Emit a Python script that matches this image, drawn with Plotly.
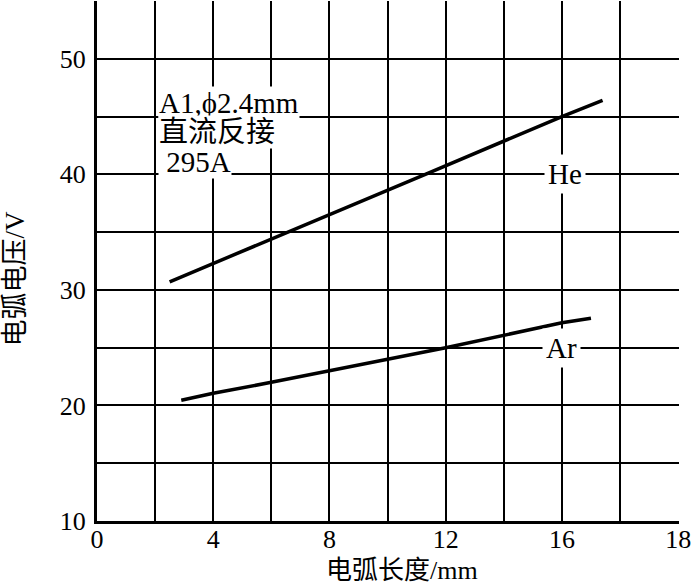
import plotly.graph_objects as go

# Data
he_x = [2.5, 6.6, 11.3, 16.0, 17.4]
he_y = [30.7, 35.0, 40.0, 45.0, 46.4]
ar_x = [2.9, 4.0, 6.0, 12.0, 16.0, 17.0]
ar_y = [20.45, 21.05, 22.0, 25.0, 27.15, 27.55]

x_tickvals = [0, 4, 8, 12, 16, 20]
x_ticktext = ["0", "4", "8", "12", "16", "18"]
y_tickvals = [10, 20, 30, 40, 50]
y_ticktext = ["10", "20", "30", "40", "50"]

series_labels = [("He", 16.1, 40.0), ("Ar", 16.0, 25.0)]
note_lines = ["A1,\u03d52.4mm", "直流反接", " 295A"]
note_y = [46.2, 43.7, 41.1]
x_title = "电弧长度/mm"
y_title = "电弧电压/V"

FONT = "Liberation Serif, Noto Sans CJK SC, serif"

fig = go.Figure()
fig.add_trace(go.Scatter(x=he_x, y=he_y, mode="lines",
                         line=dict(color="black", width=3.5), showlegend=False))
fig.add_trace(go.Scatter(x=ar_x, y=ar_y, mode="lines",
                         line=dict(color="black", width=3.5), showlegend=False))

annotations = []
for txt, xx, yy in series_labels:
    annotations.append(dict(x=xx, y=yy, xref="x", yref="y", text=txt, showarrow=False,
                            font=dict(family=FONT, size=29, color="black"),
                            bgcolor="white", borderpad=3, xanchor="center", yanchor="middle"))
for txt, yy in zip(note_lines, note_y):
    annotations.append(dict(x=2.1, y=yy, xref="x", yref="y", text=txt, showarrow=False,
                            font=dict(family=FONT, size=29, color="black"),
                            bgcolor="white", borderpad=0, xanchor="left", yanchor="middle"))
annotations.append(dict(x=0.524, y=0, xref="paper", yref="paper", text=x_title,
                        showarrow=False, yshift=-49, xanchor="center", yanchor="middle",
                        font=dict(family=FONT, size=26, color="black")))
annotations.append(dict(x=-0.141, y=0.466, xref="paper", yref="paper", text=y_title,
                        showarrow=False, textangle=-90, xanchor="center", yanchor="middle",
                        font=dict(family=FONT, size=27, color="black")))

fig.update_layout(
    width=694, height=587,
    margin=dict(l=97, r=15, t=1, b=66),
    paper_bgcolor="white", plot_bgcolor="white",
    font=dict(family=FONT, size=26, color="black"),
    annotations=annotations,
    xaxis=dict(range=[0, 20.03], tickvals=x_tickvals, ticktext=x_ticktext,
               showgrid=True, gridcolor="black", gridwidth=2,
               minor=dict(dtick=2, showgrid=True, gridcolor="black", gridwidth=2),
               showline=True, linecolor="black", linewidth=3, ticks="",
               zeroline=False, ticklabelstandoff=-7,
               tickfont=dict(family=FONT, size=26, color="black")),
    yaxis=dict(range=[10, 55], tickvals=y_tickvals, ticktext=y_ticktext,
               showgrid=True, gridcolor="black", gridwidth=2,
               minor=dict(dtick=5, showgrid=True, gridcolor="black", gridwidth=2),
               showline=True, linecolor="black", linewidth=3, ticks="",
               zeroline=False, ticklabelstandoff=3,
               tickfont=dict(family=FONT, size=26, color="black")),
)

fig.write_html("out.html", config={"displayModeBar": False},
               post_script="document.body.style.margin='0';document.body.style.overflow='hidden';")
